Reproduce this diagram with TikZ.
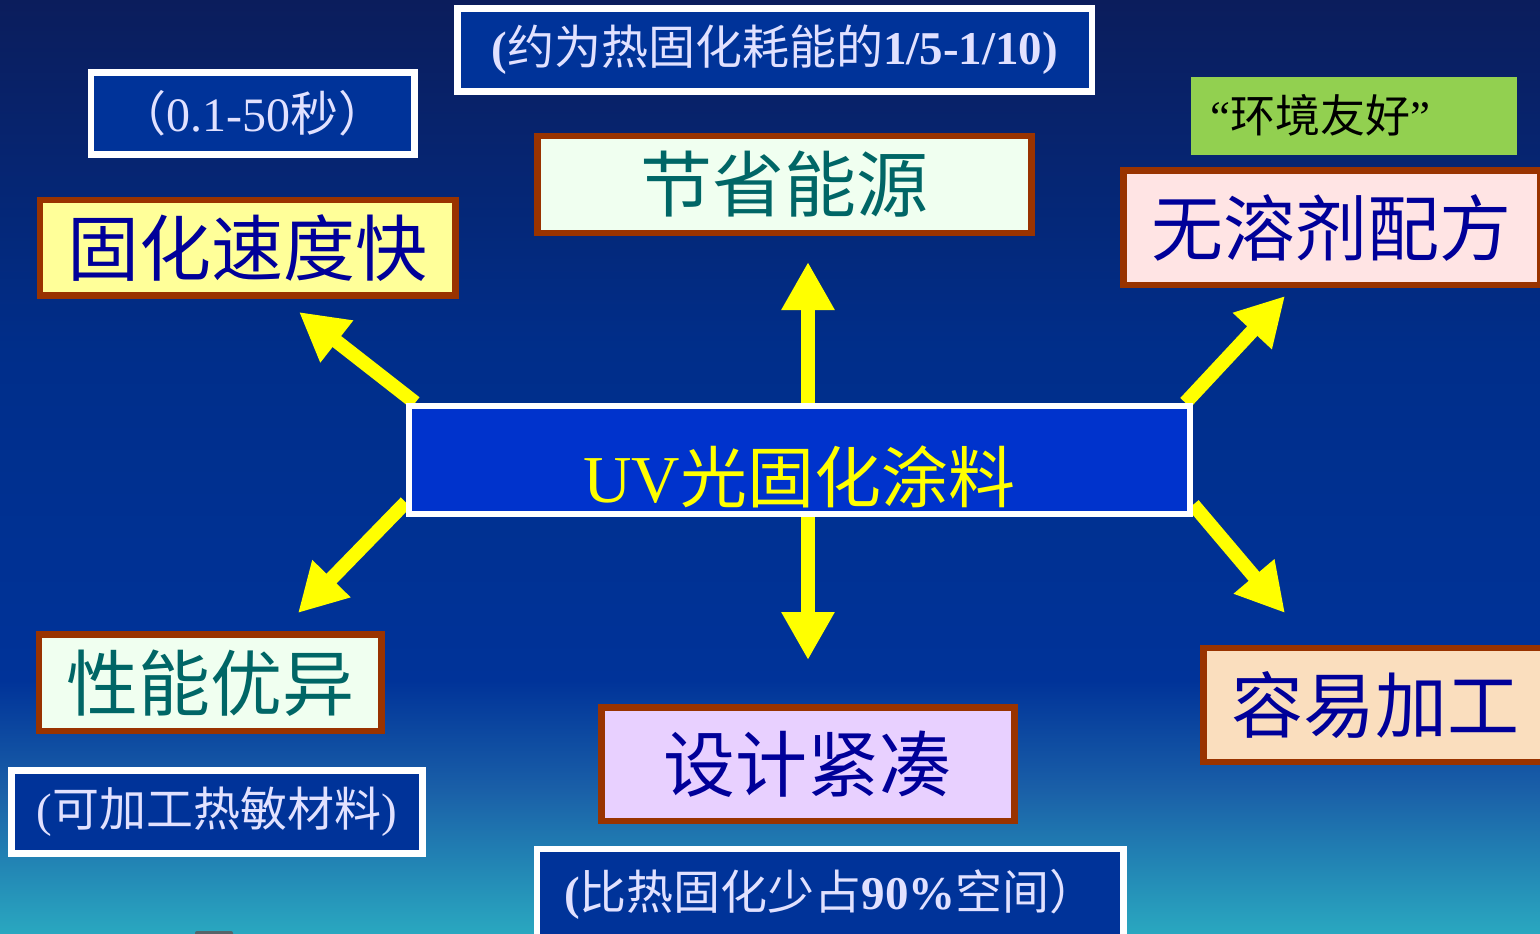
\documentclass[tikz,border=0pt]{standalone}
\usepackage{fontspec}
\setmainfont{Liberation Serif}
\newfontfamily\cjk{Noto Sans CJK SC}
\usetikzlibrary{arrows.meta,calc}
\definecolor{navy}{RGB}{0,51,153}
\definecolor{cfill}{RGB}{0,51,204}
\definecolor{bbrown}{RGB}{153,51,0}
\definecolor{lyellow}{RGB}{255,255,153}
\definecolor{mint}{RGB}{240,255,240}
\definecolor{lpink}{RGB}{255,228,228}
\definecolor{lilac}{RGB}{232,208,255}
\definecolor{peach}{RGB}{250,222,190}
\definecolor{lgreen}{RGB}{146,208,80}
\definecolor{dblue}{RGB}{0,0,153}
\definecolor{tealtext}{RGB}{0,102,102}
\definecolor{lav}{RGB}{225,225,255}
\definecolor{ayellow}{RGB}{255,255,0}
\definecolor{bgA}{RGB}{11,29,92}
\definecolor{bgB}{RGB}{0,46,138}
\definecolor{bgC}{RGB}{0,51,153}
\definecolor{bgD}{RGB}{26,96,168}
\definecolor{bgE}{RGB}{42,168,192}
\definecolor{stub}{RGB}{85,100,105}
\pgfdeclarelayer{back}
\pgfdeclarelayer{mid}
\pgfsetlayers{back,mid,main}
\tikzset{
  mainbox/.style={draw=bbrown, line width=6.5pt, inner sep=0pt,
    font={\cjk\fontsize{72}{86}\selectfont}},
  notebox/.style={draw=white, fill=navy, line width=6.5pt, inner sep=0pt, text=lav},
  ray/.style={draw=ayellow, line width=14pt, -{Triangle[length=48pt,width=50pt]}},
}
\begin{document}
\begin{tikzpicture}[x=1pt,y=-1pt]
\useasboundingbox (0,0) rectangle (1540,934);
\begin{pgfonlayer}{back}
  \shade[top color=bgA, bottom color=bgB] (0,0) rectangle (1540,351);
  \shade[top color=bgB, bottom color=bgC] (0,350) rectangle (1540,681);
  \shade[top color=bgC, bottom color=bgD] (0,680) rectangle (1540,791);
  \shade[top color=bgD, bottom color=bgE] (0,790) rectangle (1540,934);
  \fill[stub, rounded corners=2pt] (195,931) rectangle (233,940);
\end{pgfonlayer}

% notes
\node[notebox, minimum width=323.7pt, minimum height=82.4pt,
  font={\cjk\fontsize{48}{58}\selectfont}] (n1) at (252.8,113.5)
  {（{\rmfamily 0.1-50}秒）};
\node[notebox, minimum width=634.5pt, minimum height=82.6pt,
  font={\cjk\fontsize{47}{56}\selectfont}] (n2) at (774.7,50)
  {{\rmfamily\bfseries (}约为热固化耗能的{\rmfamily\bfseries 1/5-1/10)}};
\node[fill=lgreen, minimum width=325.7pt, minimum height=78.3pt, inner ysep=0pt,
  inner xsep=20pt, text width=285.7pt, align=left, text=black,
  font={\cjk\fontsize{45}{54}\selectfont}] (eco) at (1353.8,115.8)
  {{\rmfamily “}环境友好{\rmfamily ”}};
\node[notebox, minimum width=410.6pt, minimum height=82.6pt,
  font={\cjk\fontsize{47}{56}\selectfont}] (n4) at (217,812)
  {{\rmfamily (}可加工热敏材料{\rmfamily )}};
\node[notebox, minimum width=586.4pt, minimum height=91pt,
  font={\cjk\fontsize{47}{56}\selectfont}] (n5) at (830.4,894.6)
  {{\rmfamily\bfseries (}比热固化少占{\rmfamily\bfseries 90\%}空间）};

% main boxes
\node[mainbox, fill=lyellow, text=dblue, minimum width=415.3pt, minimum height=95.5pt]
  (speed) at (247.7,247.7) {固化速度快};
\node[mainbox, fill=mint, text=tealtext, minimum width=494.2pt, minimum height=97pt]
  (energy) at (784.4,184.3) {节省能源};
\node[mainbox, fill=lpink, text=dblue, minimum width=416.7pt, minimum height=114.7pt]
  (solvent) at (1331.7,227.7) {无溶剂配方};
\node[mainbox, fill=mint, text=tealtext, minimum width=342.9pt, minimum height=96.7pt]
  (perf) at (210.2,682.8) {性能优异};
\node[mainbox, fill=lilac, text=dblue, minimum width=412.7pt, minimum height=113.5pt]
  (compact) at (807.9,764) {设计紧凑};
\node[mainbox, fill=peach, text=dblue, minimum width=344.3pt, minimum height=114pt]
  (easy) at (1375.8,705) {容易加工};

% center
\node[draw=white, fill=cfill, line width=6.5pt, inner sep=0pt,
  minimum width=781pt, minimum height=108pt, text=ayellow,
  text height=85pt, text depth=0pt,
  font={\cjk\fontsize{67}{80}\selectfont}] (core) at (799.5,460)
  {{\rmfamily UV}光固化涂料};

% arrow tips
\coordinate (tipU) at (808,262);
\coordinate (tipD) at (808,660);
\coordinate (tipUL) at (299,312);
\coordinate (tipUR) at (1285,296);
\coordinate (tipLL) at (298,613);
\coordinate (tipLR) at (1285,613);

\begin{pgfonlayer}{mid}
  \draw[ray] (core.north -| tipU) -- (tipU);
  \draw[ray] (core.south -| tipD) -- (tipD);
  \draw[ray] ($(core.north west)!0.012!(core.north east)$) -- (tipUL);
  \draw[ray] ($(core.north west)!0.99!(core.north east)$) -- (tipUR);
  \draw[ray] ($(core.south west)!0.13!(core.north west)$) -- (tipLL);
  \draw[ray] ($(core.south east)!0.11!(core.north east)$) -- (tipLR);
\end{pgfonlayer}
\end{tikzpicture}
\end{document}
